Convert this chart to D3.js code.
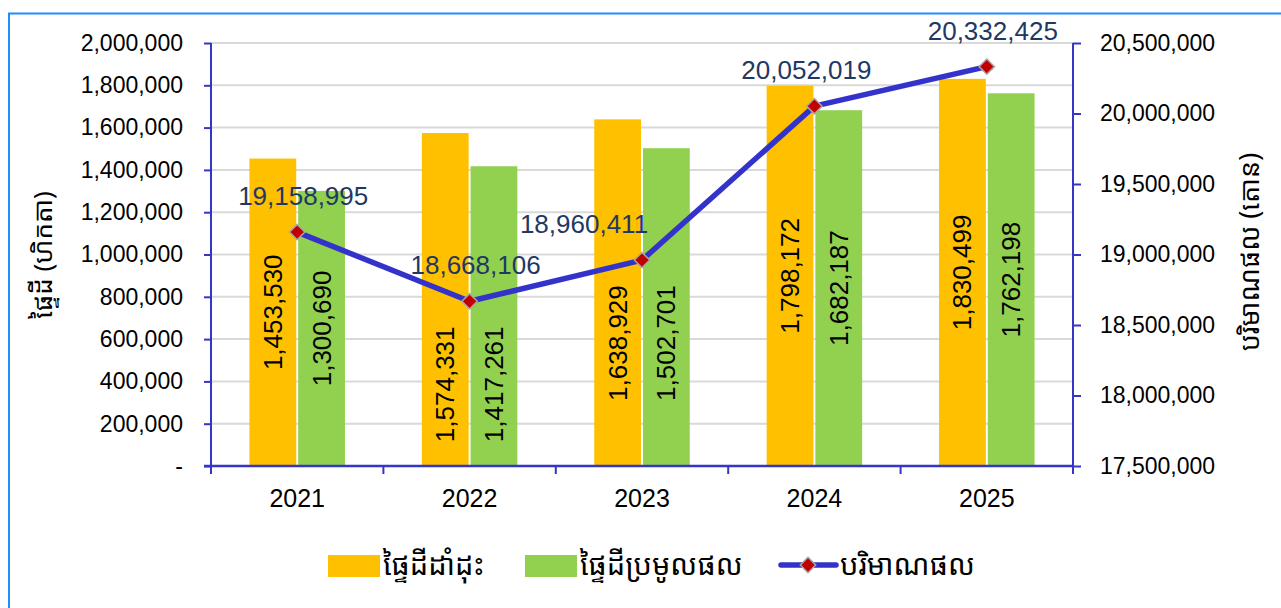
<!DOCTYPE html>
<html>
<head>
<meta charset="utf-8">
<script src="https://cdn.jsdelivr.net/npm/d3@7"></script>
<style>
  body { margin: 0; background: #fff; }
  svg { display: block; font-family: "Liberation Sans", Arial, sans-serif; }
  .kh { font-family: "Khmer OS", "Noto Sans Khmer", "Khmer OS System", "Liberation Sans", sans-serif; }
</style>
</head>
<body>
<svg id="chart" width="1281" height="608"></svg>
<script>
// data
var years = ["2021", "2022", "2023", "2024", "2025"];
var planted = [1453530, 1574331, 1638929, 1798172, 1830499];
var harvested = [1300690, 1417261, 1502701, 1682187, 1762198];
var production = [19158995, 18668106, 18960411, 20052019, 20332425];
var leftTicks = [0, 200000, 400000, 600000, 800000, 1000000, 1200000, 1400000, 1600000, 1800000, 2000000];
var rightTicks = [17500000, 18000000, 18500000, 19000000, 19500000, 20000000, 20500000];
var seriesNames = ["ផ្ទៃដីដាំដុះ", "ផ្ទៃដីប្រមូលផល", "បរិមាណផល"];
var leftTitle = "ផ្ទៃដី (ហិកតា)";
var rightTitle = "បរិមាណផល (តោន)";

var svg = d3.select("#chart");
var L = 211, R = 1073, T = 43, B = 466;
var axisBlue = "#3535c8", lineBlue = "#3333cc";
var barColors = ["#ffc000", "#92d050"];
var fmt = d3.format(",");

// frame
svg.append("rect").attr("x", 9).attr("y", 13.5).attr("width", 1290).attr("height", 620)
   .attr("fill", "none").attr("stroke", "#1e8fff").attr("stroke-width", 2);

var x = d3.scaleBand().domain(years).range([L, R]);
var bw = x.bandwidth();
var sub = d3.scaleBand().domain([0, 1]).range([bw * 0.223, bw * 0.777]).paddingInner(0.04);
var yL = d3.scaleLinear().domain([0, 2000000]).range([B, T]);
var yR = d3.scaleLinear().domain([17500000, 20500000]).range([B, T]);

// gridlines
svg.append("g").selectAll("line").data(leftTicks.slice(1)).enter().append("line")
   .attr("x1", L).attr("x2", R)
   .attr("y1", function(d){ return yL(d); }).attr("y2", function(d){ return yL(d); })
   .attr("stroke", "#d9d9d9").attr("stroke-width", 2);

// bars
var groups = [planted, harvested];
groups.forEach(function(vals, si){
    svg.append("g").selectAll("rect").data(vals).enter().append("rect")
       .attr("x", function(d, i){ return x(years[i]) + sub(si); })
       .attr("width", sub.bandwidth())
       .attr("y", function(d){ return yL(d); })
       .attr("height", function(d){ return B - yL(d); })
       .attr("fill", barColors[si]);
});

// left axis
var gL = svg.append("g").attr("transform", "translate(" + L + ",0)")
    .call(d3.axisLeft(yL).tickValues(leftTicks).tickSize(7).tickPadding(21)
          .tickFormat(function(d){ return d === 0 ? "-" : fmt(d); }));
gL.select(".domain").attr("d", "M0," + T + "V" + (B + 8)).attr("stroke", axisBlue).attr("stroke-width", 2);
gL.selectAll(".tick line").attr("stroke", axisBlue).attr("stroke-width", 2);
gL.selectAll(".tick text").attr("fill", "#000").style("font-size", "23px")
   .style("font-family", "Liberation Sans, Arial, sans-serif");

// right axis
var gR = svg.append("g").attr("transform", "translate(" + R + ",0)")
    .call(d3.axisRight(yR).tickValues(rightTicks).tickSize(8).tickPadding(19).tickFormat(fmt));
gR.select(".domain").attr("d", "M0," + T + "V" + (B + 8)).attr("stroke", axisBlue).attr("stroke-width", 2);
gR.selectAll(".tick line").attr("stroke", axisBlue).attr("stroke-width", 2);
gR.selectAll(".tick text").attr("fill", "#000").style("font-size", "23px")
   .style("font-family", "Liberation Sans, Arial, sans-serif");

// x axis
var gX = svg.append("g").attr("transform", "translate(0," + B + ")");
gX.append("line").attr("x1", L - 7).attr("x2", R + 1).attr("y1", 0).attr("y2", 0)
   .attr("stroke", axisBlue).attr("stroke-width", 2.5);
var bounds = years.map(function(y){ return x(y); }).concat([R]);
gX.selectAll(".xt").data(bounds).enter().append("line").attr("class", "xt")
   .attr("x1", function(d){ return d; }).attr("x2", function(d){ return d; })
   .attr("y1", 0).attr("y2", 8).attr("stroke", axisBlue).attr("stroke-width", 2);
gX.selectAll(".yl").data(years).enter().append("text").attr("class", "yl")
   .attr("x", function(d){ return x(d) + bw / 2; }).attr("y", 41)
   .attr("text-anchor", "middle").style("font-size", "25px").attr("fill", "#000")
   .text(function(d){ return d; });

// bar value labels (rotated), moved below the line point when they would sit on it
groups.forEach(function(vals, si){
    svg.append("g").selectAll("text").data(vals).enter().append("text")
       .attr("transform", function(d, i){
           var cx = x(years[i]) + sub(si) + sub.bandwidth() / 2 + 9;
           var cy = (yL(d) + B) / 2;
           var half = 58;
           var py = yR(production[i]);
           if (cy - half < py + 10) cy = py + 25 + half;
           return "translate(" + cx + "," + cy + ") rotate(-90)";
       })
       .attr("text-anchor", "middle").style("font-size", "26px").attr("fill", "#000")
       .text(function(d){ return fmt(d); });
});

// production line
var px = function(i){ return x(years[i]) + bw / 2; };
var line = d3.line().x(function(d, i){ return px(i); }).y(function(d){ return yR(d); });
svg.append("path").datum(production).attr("d", line).attr("fill", "none")
   .attr("stroke", lineBlue).attr("stroke-width", 5.5).attr("stroke-linejoin", "round");
svg.append("g").selectAll("path").data(production).enter().append("path")
   .attr("d", d3.symbol().type(d3.symbolDiamond2).size(150))
   .attr("transform", function(d, i){ return "translate(" + px(i) + "," + yR(d) + ")"; })
   .attr("fill", "#c00000").attr("stroke", "#a6a6a6").attr("stroke-width", 1.5);

// line y at a given screen x (linear between points)
function lineYAt(sx){
    for (var k = 0; k < production.length - 1; k++){
        var x0 = px(k), x1 = px(k + 1);
        if (sx >= x0 && sx <= x1){
            var t = (sx - x0) / (x1 - x0);
            return yR(production[k]) + t * (yR(production[k + 1]) - yR(production[k]));
        }
    }
    return null;
}
// label above each point; slide it sideways if the line runs through it
var pl = svg.append("g").selectAll("text").data(production).enter().append("text")
   .attr("y", function(d){ return yR(d) - 27; })
   .attr("text-anchor", "middle").style("font-size", "26px").attr("fill", "#1f3864")
   .text(function(d){ return fmt(d); });
pl.attr("x", function(d, i){
    var w = this.getComputedTextLength(), base = yR(d) - 27;
    var top = base - 20, bot = base + 8;
    function hits(cx){
        for (var sx = cx - w / 2 - 4; sx <= cx + w / 2 + 4; sx += 2){
            var ly = lineYAt(sx);
            if (ly !== null && ly - 3 < bot && ly + 3 > top) return true;
        }
        return false;
    }
    var cx = px(i) + 6;
    if (!hits(cx)) return cx;
    for (var s = 2; s < 120; s += 2){
        if (!hits(cx - s)) return cx - s - 8;
        if (!hits(cx + s)) return cx + s + 8;
    }
    return cx;
});

// axis titles
svg.append("text").attr("class", "kh").attr("transform", "translate(52,255) rotate(-90)")
   .attr("text-anchor", "middle").style("font-size", "26px").attr("fill", "#000").text(leftTitle);
svg.append("text").attr("class", "kh").attr("transform", "translate(1259,252) rotate(-90)")
   .attr("text-anchor", "middle").style("font-size", "27px").attr("fill", "#000").text(rightTitle);

// legend
var lg = svg.append("g").style("font-size", "29px");
lg.append("rect").attr("x", 328).attr("y", 555).attr("width", 52).attr("height", 22).attr("fill", barColors[0]);
lg.append("text").attr("class", "kh").attr("x", 383).attr("y", 575).text(seriesNames[0]);
lg.append("rect").attr("x", 525).attr("y", 555).attr("width", 52).attr("height", 22).attr("fill", barColors[1]);
lg.append("text").attr("class", "kh").attr("x", 580).attr("y", 575).text(seriesNames[1]);
lg.append("line").attr("x1", 781).attr("x2", 836).attr("y1", 565).attr("y2", 565)
   .attr("stroke", lineBlue).attr("stroke-width", 5.5).attr("stroke-linecap", "round");
lg.append("path").attr("d", d3.symbol().type(d3.symbolDiamond2).size(150))
   .attr("transform", "translate(808,565)").attr("fill", "#c00000").attr("stroke", "#a6a6a6").attr("stroke-width", 1.5);
lg.append("text").attr("class", "kh").attr("x", 840).attr("y", 575).text(seriesNames[2]);
</script>
</body>
</html>
